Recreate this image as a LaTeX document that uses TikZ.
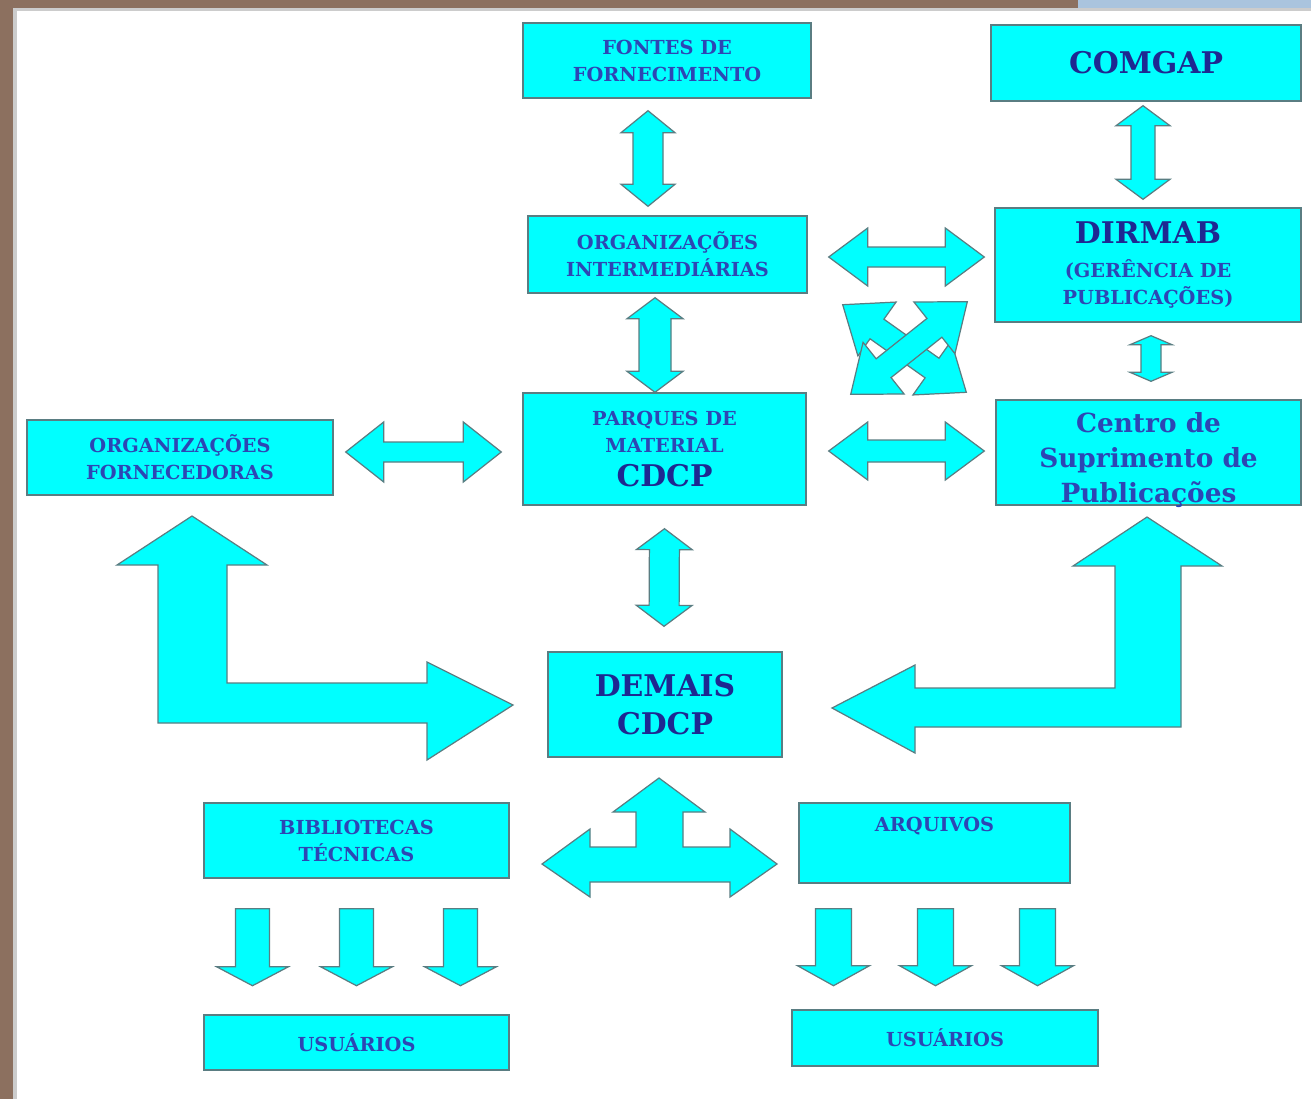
\documentclass[tikz,border=0pt]{standalone}
\usepackage{fontspec}
\setmainfont{DejaVu Serif}
\usepackage{tikz}
\usetikzlibrary{calc}
\usepackage{color}
\definecolor{boxCyan}{RGB}{0, 255, 255}
\definecolor{edgeGray}{RGB}{90, 125, 130}
\definecolor{textBlue}{RGB}{45, 70, 180}
\definecolor{darkBlue}{RGB}{30, 40, 145}
\definecolor{frameBrown}{RGB}{140, 112, 95}
\definecolor{frameBlue}{RGB}{170, 196, 222}
\newcommand{\bigword}[1]{{\fontsize{17}{20}\selectfont\color{darkBlue}#1}}

% block arrows: #1, #2 = tips, #3 = half shaft, #4 = half head, #5 = head length
\newcommand{\dblarrow}[5]{%
  \draw[blockarrow] let \p1=(#1), \p2=(#2), \n1={atan2(\y2-\y1,\x2-\x1)} in
    (\p1) -- ($(\p1)+(\n1:#5)+(\n1+90:#4)$) -- ($(\p1)+(\n1:#5)+(\n1+90:#3)$)
    -- ($(\p2)+(\n1+180:#5)+(\n1+90:#3)$) -- ($(\p2)+(\n1+180:#5)+(\n1+90:#4)$)
    -- (\p2) -- ($(\p2)+(\n1+180:#5)+(\n1-90:#4)$) -- ($(\p2)+(\n1+180:#5)+(\n1-90:#3)$)
    -- ($(\p1)+(\n1:#5)+(\n1-90:#3)$) -- ($(\p1)+(\n1:#5)+(\n1-90:#4)$) -- cycle;}
\newcommand{\sglarrow}[5]{%
  \draw[blockarrow] let \p1=(#1), \p2=(#2), \n1={atan2(\y2-\y1,\x2-\x1)} in
    ($(\p1)+(\n1+90:#3)$) -- ($(\p2)+(\n1+180:#5)+(\n1+90:#3)$)
    -- ($(\p2)+(\n1+180:#5)+(\n1+90:#4)$) -- (\p2)
    -- ($(\p2)+(\n1+180:#5)+(\n1-90:#4)$) -- ($(\p2)+(\n1+180:#5)+(\n1-90:#3)$)
    -- ($(\p1)+(\n1-90:#3)$) -- cycle;}

\tikzset{x=0.02cm, y=0.02cm}

\begin{document}
\begin{tikzpicture}[
    box/.style = {draw=edgeGray, fill=boxCyan, line width=0.8pt, text=textBlue,
        font=\bfseries\fontsize{11}{15.4}\selectfont, align=center, inner sep=0pt},
    boxsize/.style 2 args = {minimum width=#1*0.02cm, minimum height=#2*0.02cm},
    blockarrow/.style = {fill=boxCyan, draw=edgeGray, line width=0.7pt, line join=miter}
  ]
  \useasboundingbox (0,0) rectangle (1311,-1099);
  \fill[white] (0,0) rectangle (1311,-1099);
  \fill[black!20] (13,-8) rectangle (17,-1099);
  \fill[black!20] (13,-8) rectangle (1311,-11);
  \fill[frameBrown] (0,0) rectangle (13,-1099);
  \fill[frameBrown] (0,0) rectangle (1078,-8);
  \fill[frameBlue] (1078,0) rectangle (1311,-8);

  % boxes
  \node[box, boxsize={288}{75}] (fontes) at (667,-60.5) {FONTES DE\\FORNECIMENTO};
  \node[box, boxsize={310}{76}] (comgap) at (1146,-63) {\bigword{COMGAP}};
  \node[box, boxsize={279}{77}] (orgint) at (667.5,-254.5) {ORGANIZAÇÕES\\INTERMEDIÁRIAS};
  \node[box, boxsize={306}{114}] (dirmab) at (1148,-265)
    {\bigword{DIRMAB}\\[4pt](GERÊNCIA DE\\PUBLICAÇÕES)};
  \node[box, boxsize={283}{112}] (parques) at (664.5,-449)
    {PARQUES DE\\MATERIAL\\[4pt]\bigword{CDCP}};
  \node[box, boxsize={305}{105}, font=\bfseries\fontsize{15}{20}\selectfont,
    text height=2.06cm, text depth=0.04cm] (centro) at (1148.5,-452.5)
    {Centro de\\Suprimento de\\Publicações};
  \node[box, boxsize={306}{75}] (orgforn) at (180,-457.5) {ORGANIZAÇÕES\\FORNECEDORAS};
  \node[box, boxsize={234}{105}, font=\bfseries\fontsize{17}{21.6}\selectfont, text=darkBlue] (demais) at (665,-704.5)
    {DEMAIS\\CDCP};
  \node[box, boxsize={305}{75}] (biblio) at (356.5,-840.5) {BIBLIOTECAS\\TÉCNICAS};
  \node[box, boxsize={271}{80}, text height=0.56cm, text depth=1.04cm] (arq) at (934.5,-843) {ARQUIVOS};
  \node[box, boxsize={305}{55}] (usu1) at (356.5,-1042.5) {USUÁRIOS};
  \node[box, boxsize={306}{56}] (usu2) at (945,-1038) {USUÁRIOS};

  % vertical links
  \dblarrow{$(fontes.south)+(-19,-12)$}{$(orgint.north)+(-19.5,9)$}{15}{27}{22}
  \dblarrow{$(comgap.south)+(-3,-4)$}{$(dirmab.north)+(-5,8)$}{12}{27}{20}
  \dblarrow{$(orgint.south)+(-12.5,-4)$}{$(parques.north)+(-9.5,0)$}{16}{28}{21}
  \dblarrow{$(parques.south)+(0,-23)$}{$(demais.north)+(-1,25)$}{15}{28}{21}
  \dblarrow{$(dirmab.south)+(3,-13)$}{$(centro.north)+(2.5,18)$}{10}{21}{9}

  % horizontal links
  \dblarrow{$(orgint.east)+(21,-2.5)$}{$(dirmab.west)+(-10,8)$}{10}{29}{39}
  \dblarrow{$(parques.east)+(22,-2)$}{$(centro.west)+(-11,1.5)$}{11}{29}{39}
  \dblarrow{$(orgforn.east)+(12,5.5)$}{$(parques.west)+(-21,-3)$}{10}{30}{38}

  % crossed links
  \dblarrow{$(orgint.south east)+(35,-11)$}{$(centro.north west)+(-29,7)$}{12}{33}{42}
  \dblarrow{$(parques.north east)+(44,-2)$}{$(dirmab.south west)+(-27,21)$}{12}{33}{42}

  % bent links to DEMAIS CDCP
  \draw[blockarrow] (192,-516) -- (267,-565) -- (227,-565) -- (227,-683) -- (427,-683)
    -- (427,-662) -- (513,-705) -- (427,-760) -- (427,-723) -- (158,-723)
    -- (158,-565) -- (117,-565) -- cycle;
  \draw[blockarrow] (1147,-517) -- (1222,-566) -- (1181,-566) -- (1181,-727) -- (915,-727)
    -- (915,-753) -- (832,-708) -- (915,-665) -- (915,-688) -- (1115,-688)
    -- (1115,-566) -- (1073,-566) -- cycle;

  % three-way link
  \draw[blockarrow] (659,-778) -- (705,-812) -- (683,-812) -- (683,-847) -- (730,-847)
    -- (730,-829) -- (777,-864) -- (730,-897) -- (730,-882) -- (590,-882)
    -- (590,-897) -- (542,-864) -- (590,-829) -- (590,-847) -- (636,-847)
    -- (636,-812) -- (613,-812) -- cycle;

  % down to users
  \foreach \dx in {-104, 0, 104}
    \sglarrow{$(biblio.south)+(\dx,-30)$}{$(biblio.south)+(\dx,-107)$}{17}{36}{19};
  \foreach \dx in {-101, 1, 103}
    \sglarrow{$(arq.south)+(\dx,-25)$}{$(arq.south)+(\dx,-102)$}{18}{36}{20};
\end{tikzpicture}
\end{document}
